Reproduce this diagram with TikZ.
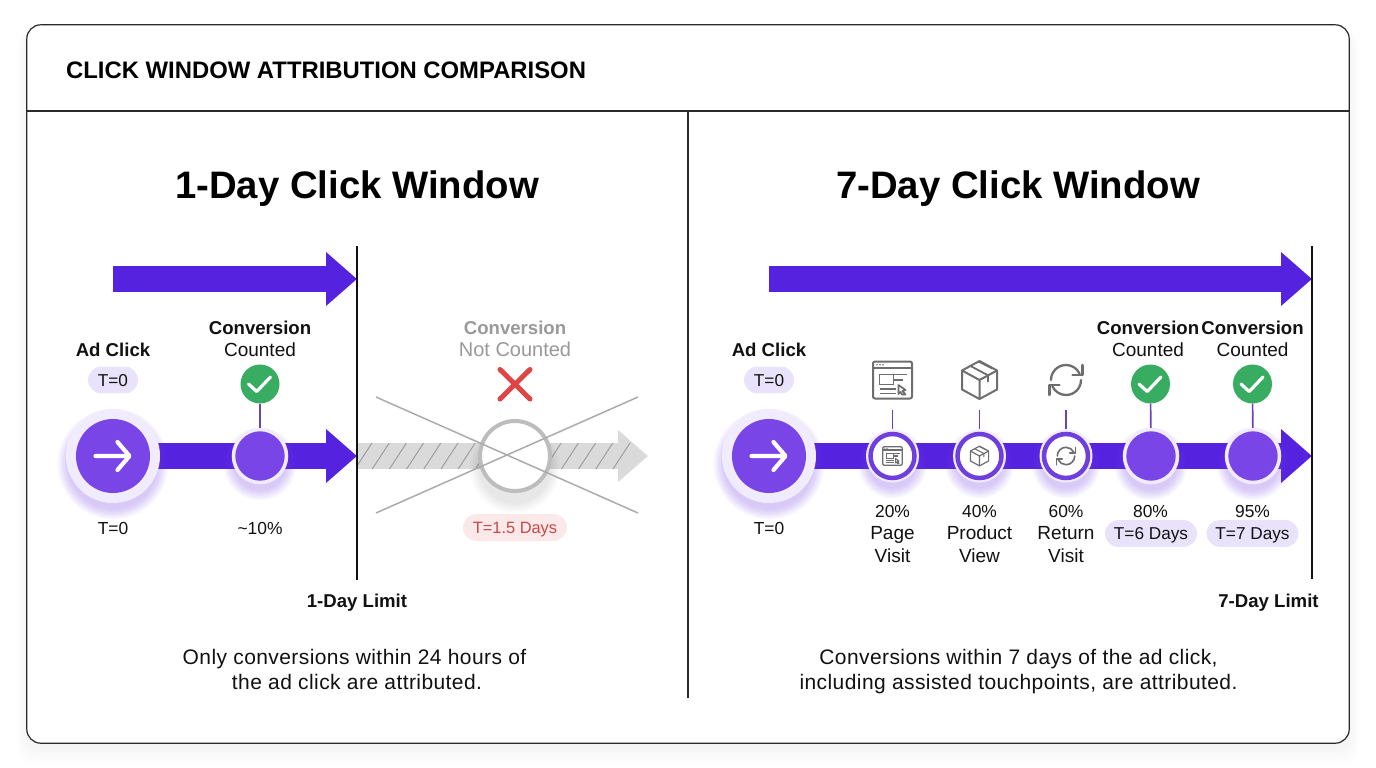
\documentclass[tikz,border=0pt]{standalone}
\usepackage{fontspec}
\setmainfont{Liberation Sans}
\newfontfamily\capfont[LetterSpace=2]{Liberation Sans}
\usetikzlibrary{arrows.meta}
\definecolor{barP}{HTML}{5522E0}
\definecolor{nodeP}{HTML}{7A45E6}
\definecolor{ringP}{HTML}{6E3FDC}
\definecolor{haloP}{HTML}{F1ECFD}
\definecolor{pillP}{HTML}{E9E2FB}
\definecolor{stemP}{HTML}{6A40C4}
\definecolor{okG}{HTML}{38AD62}
\definecolor{inkK}{HTML}{111111}
\definecolor{grayT}{HTML}{999999}
\definecolor{grayB}{HTML}{DADADA}
\definecolor{grayL}{HTML}{ABABAB}
\definecolor{grayR}{HTML}{BDBDBD}
\definecolor{redX}{HTML}{E04545}
\definecolor{redT}{HTML}{C64A4A}
\definecolor{pillR}{HTML}{FBE8E8}
\definecolor{iconG}{HTML}{6E6E6E}
\newcommand{\fsz}[1]{\fontsize{#1}{#1}\selectfont}
\newcommand{\softglow}[5]{% x y r colour opacity
  \foreach \gs in {1,...,8}{\fill[#4,opacity=#5] (#1,#2+8) circle ({#3-3+\gs*1.4});}}
\tikzset{
  x=1pt,y=-1pt,
  txt/.style={anchor=base,inner sep=0pt,text=inkK,font=\fsz{19}},
  pcttxt/.style={anchor=base,inner sep=0pt,text=inkK,font=\fsz{17.4}},
  btxt/.style={anchor=base,inner sep=0pt,text=inkK,font=\fsz{18.6}\bfseries},
  gtxt/.style={txt,text=grayT,font=\fsz{20}},
  gbtxt/.style={btxt,text=grayT},
  captxt/.style={anchor=base,inner sep=0pt,text=inkK,font=\capfont\fsz{21}},
  headtxt/.style={anchor=base,inner sep=0pt,text=black,font=\fsz{38.3}\bfseries},
  limlbl/.style={anchor=base,inner sep=0pt,text=inkK,font=\fsz{18.6}\bfseries},
  pilltag/.style={rounded corners=13.4pt,fill=pillP,inner sep=0pt,minimum height=26.8pt,text height=12pt,text depth=0pt,text=inkK,font=\fsz{17.2}},
  redpill/.style={pilltag,fill=pillR,text=redT,font=\fsz{16.4}},
  barline/.style={line width=26pt,barP,-{Triangle[length=31pt,width=52pt]}},
  graybar/.style={line width=26pt,grayB,-{Triangle[length=30pt,width=50pt]}},
  limitline/.style={line width=1.4pt,inkK},
  stemline/.style={line width=1.6pt,stemP},
  frameline/.style={line width=1.2pt,inkK!90},
  clickhalo/.style={circle,fill=haloP,inner sep=0pt,minimum size=94pt},
  clickdot/.style={circle,fill=nodeP,inner sep=0pt,minimum size=74pt},
  convdot/.style={circle,fill=nodeP,draw=haloP,line width=3.5pt,inner sep=0pt,minimum size=53pt},
  stepdot/.style={circle,fill=white,draw=ringP,line width=4.5pt,inner sep=0pt,minimum size=44pt},
  stepouter/.style={circle,fill=haloP,inner sep=0pt,minimum size=53pt},
  okdot/.style={circle,fill=okG,inner sep=0pt,minimum size=39pt},
  iconspot/.style={inner sep=0pt,minimum size=60pt},
  pics/checkmark/.style={code={\draw[white,line width=3.2pt,line cap=round,line join=round] (-11.5,0)--(-3.3,7.5)--(10.5,-7);}},
  pics/clickarrow/.style={code={\draw[white,line width=4.2pt,line cap=round,line join=round] (-17.5,0)--(16,0) (4.5,-14)--(16.5,0)--(4.5,14);}},
  pics/browsericon/.style={code={
    \draw[iconG,line width=2pt*#1,rounded corners=2pt*#1] (-19.5,-18.5) rectangle (19.5,18.5);
    \draw[iconG,line width=1.7pt*#1] (-19.5,-12)--(19.5,-12);
    \draw[iconG,line width=1.7pt*#1] (-13,-5.5) rectangle (1,4.5);
    \draw[iconG,line width=1.7pt*#1] (1,-5.5)--(14,-5.5) (1,0)--(10,0) (-13,9)--(3,9) (-13,13.5)--(3,13.5);
    \fill[iconG] (-15.5,-15.2) circle (.9) (-12.5,-15.2) circle (.9) (-9.5,-15.2) circle (.9);
    \draw[iconG,line width=1.7pt*#1,line join=round] (6,5)--(13,10)--(10,11)--(13,14.5)--(9.5,14.5)--(8,12)--(6,14)--cycle;
  }},
  pics/boxicon/.style={code={
    \draw[iconG,line width=2pt*#1,line join=round] (0,-19)--(17.5,-9.5)--(17.5,9.5)--(0,19)--(-17.5,9.5)--(-17.5,-9.5)--cycle;
    \draw[iconG,line width=2pt*#1,line join=round] (-17.5,-9.5)--(0,0)--(17.5,-9.5) (0,0)--(0,19);
    \draw[iconG,line width=1.8pt*#1,line join=round] (-9,-14)--(8.5,-4.7)--(8.5,2) (-1,-18.5)--(13,-11.5);
  }},
  pics/cycleicon/.style={code={
    \draw[iconG,line width=2.3pt*#1,line cap=round] (-15,0) arc[start angle=180,end angle=335,radius=15];
    \draw[iconG,line width=2.3pt*#1,line cap=round] (15,0) arc[start angle=0,end angle=155,radius=15];
    \draw[iconG,line width=2.3pt*#1,line join=round,line cap=round] (16.5,-15)--(16.5,-5)--(6.5,-5);
    \draw[iconG,line width=2.3pt*#1,line join=round,line cap=round] (-16.5,15)--(-16.5,5)--(-6.5,5);
  }},
}
\begin{document}
\begin{tikzpicture}
\useasboundingbox (0,0) rectangle (1376,768);
\fill[white] (0,0) rectangle (1376,768);
% card shadow
\foreach \s in {1,...,10}{\fill[black,opacity=0.005,rounded corners=16pt] (27-\s,25+6) rectangle (1349+\s,743+4+\s*1.8);}
\node[draw=none,fill=white,rounded corners=14pt,minimum width=1322pt,minimum height=718pt,inner sep=0pt] (card) at (688,384) {};
\draw[frameline,rounded corners=14pt] (card.north west) rectangle (card.south east);
\coordinate (hdrL) at (27,111); \coordinate (hdrR) at (1349,111);
\coordinate (divB) at (688,698); \coordinate (divT) at (688,111);
\draw[frameline] (hdrL)--(hdrR);
\draw[frameline] (divT)--(divB);
\node[anchor=base west,inner sep=0pt,text=black,font=\fsz{23.85}\bfseries] (title) at (66,78) {CLICK WINDOW ATTRIBUTION COMPARISON};
% ---------- left
\node[headtxt] (headL) at (357,198) {1-Day Click Window};
\coordinate (lTopS) at (113,279); \coordinate (lTopE) at (357,279);
\draw[barline] (lTopS)--(lTopE);
\coordinate (lC) at (113,456); \coordinate (lConv) at (260,456); \coordinate (lE) at (357,456);
\coordinate (grayE) at (648,456); \coordinate (ghostC) at (515,456);
% gray arrow with hatching
\draw[graybar] (lE)--(grayE);
\begin{scope}
\clip (357,443) rectangle (632,469);
\foreach \hx in {0,...,15}{\draw[grayT,line width=.9pt] (355+\hx*17.2,469)--(372+\hx*17.2,443);}
\end{scope}
\draw[barline] (lC)--(lE);
\coordinate (limLT) at (357,246); \coordinate (limLB) at (357,580);
\draw[limitline] (limLT)--(limLB);
% click
\softglow{113}{456}{47}{nodeP}{0.04}
\node[clickhalo] (clickL) at (lC) {};
\node[clickdot] (clickLd) at (lC) {};
\pic at (lC) {clickarrow};
\softglow{260}{456}{28}{nodeP}{0.04}
\node[convdot] (convL) at (lConv) {};
\node[okdot] (okL) at (260,384) {};
\pic at (okL) {checkmark};
\draw[stemline] (okL)--(convL);
\node[btxt] (adL) at (113,356.5) {Ad Click};
\node[pilltag,minimum width=50pt] (t0L) at (113,380) {T=0};
\node[btxt] (cvL) at (260,334.5) {Conversion};
\node[txt] (ctL) at (260,356.5) {Counted};
\node[pcttxt] (b0L) at (113,534) {T=0};
\node[pcttxt] (b1L) at (260,534) {\char`~10\%};
\node[limlbl] (limL) at (357,607) {1-Day Limit};
\node[captxt] (cL1) at (354.5,664) {Only conversions within 24 hours of};
\node[captxt] (cL2) at (357,689) {the ad click are attributed.};
% ghost conversion
\softglow{515}{460}{37}{black}{0.012}
\node[circle,fill=white,draw=grayR,line width=4pt,inner sep=0pt,minimum size=70pt] (ghost) at (ghostC) {};
\coordinate (xA) at (376,397); \coordinate (xB) at (638,513);
\coordinate (xC) at (376,513); \coordinate (xD) at (638,397);
\draw[grayL,line width=1.5pt] (xA)--(xB);
\draw[grayL,line width=1.5pt] (xC)--(xD);
\draw[redX,line width=5pt,line cap=round] (500,369.5)--(530,399) (530,369.5)--(500,399);
\node[gbtxt] (cvG) at (515,334.5) {Conversion};
\node[gtxt] (ctG) at (515,356.5) {Not Counted};
\node[redpill,minimum width=104pt] (tG) at (515,527.5) {T=1.5 Days};
% ---------- right
\node[headtxt] (headR) at (1018,198) {7-Day Click Window};
\coordinate (rTopS) at (769,279); \coordinate (rTopE) at (1312,279);
\draw[barline] (rTopS)--(rTopE);
\coordinate (rC) at (769,456); \coordinate (rE) at (1312,456);
\draw[barline] (rC)--(rE);
\coordinate (limRT) at (1312,246); \coordinate (limRB) at (1312,579);
\draw[limitline] (limRT)--(limRB);
\softglow{769}{456}{47}{nodeP}{0.04}
\node[clickhalo] (clickR) at (rC) {};
\node[clickdot] (clickRd) at (rC) {};
\pic at (rC) {clickarrow};
\node[btxt] (adR) at (769,356.5) {Ad Click};
\node[pilltag,minimum width=50pt] (t0R) at (769,380) {T=0};
\node[pcttxt] (b0R) at (769,534) {T=0};
% steps
\softglow{892.5}{456}{26}{nodeP}{0.04}
\softglow{979.5}{456}{26}{nodeP}{0.04}
\softglow{1066}{456}{26}{nodeP}{0.04}
\node[stepouter] (s1o) at (892.5,456) {}; \node[stepdot] (s1) at (892.5,456) {};
\node[stepouter] (s2o) at (979.5,456) {}; \node[stepdot] (s2) at (979.5,456) {};
\node[stepouter] (s3o) at (1066,456) {}; \node[stepdot] (s3) at (1066,456) {};
\node[iconspot] (i1) at (892.5,380) {};
\node[iconspot] (i2) at (979.5,380) {};
\node[iconspot] (i3) at (1066,380) {};
\pic at (i1) {browsericon=1};
\pic at (i2) {boxicon=1};
\pic at (i3) {cycleicon=1};
\pic[scale=.5] at (s1) {browsericon=.6};
\pic[scale=.52] at (s2) {boxicon=.6};
\pic[scale=.58] at (s3) {cycleicon=.7};
\draw[stemline] (i1)--(s1o);
\draw[stemline] (i2)--(s2o);
\draw[stemline] (i3)--(s3o);
\node[pcttxt] (p1) at (892.5,517) {20\%};
\node[txt] (p1a) at (892.5,539.5) {Page};
\node[txt] (p1b) at (892.5,562) {Visit};
\node[pcttxt] (p2) at (979.5,517) {40\%};
\node[txt] (p2a) at (979.5,539.5) {Product};
\node[txt] (p2b) at (979.5,562) {View};
\node[pcttxt] (p3) at (1066,517) {60\%};
\node[txt] (p3a) at (1066,539.5) {Return};
\node[txt] (p3b) at (1066,562) {Visit};
% conversions
\softglow{1151}{456}{28}{nodeP}{0.04}
\softglow{1253}{456}{28}{nodeP}{0.04}
\node[convdot] (conv6) at (1151,456) {};
\node[convdot] (conv7) at (1253,456) {};
\node[okdot] (ok6) at (1150.5,384) {};
\node[okdot] (ok7) at (1252.5,384) {};
\pic at (ok6) {checkmark};
\pic at (ok7) {checkmark};
\draw[stemline] (ok6)--(conv6);
\draw[stemline] (ok7)--(conv7);
\node[btxt] (cv6) at (1148,334.5) {Conversion};
\node[txt] (ct6) at (1148,356.5) {Counted};
\node[btxt] (cv7) at (1252.5,334.5) {Conversion};
\node[txt] (ct7) at (1252.5,356.5) {Counted};
\node[pcttxt] (p6) at (1150.5,517) {80\%};
\node[pcttxt] (p7) at (1252.5,517) {95\%};
\node[pilltag,minimum width=92pt] (t6) at (1151,533.5) {T=6 Days};
\node[pilltag,minimum width=92pt] (t7) at (1252.5,533.5) {T=7 Days};
\node[limlbl] (limR) at (1268.5,607) {7-Day Limit};
\node[captxt] (cR1) at (1018.5,664) {Conversions within 7 days of the ad click,};
\node[captxt] (cR2) at (1018.5,689) {including assisted touchpoints, are attributed.};
\end{tikzpicture}
\end{document}
